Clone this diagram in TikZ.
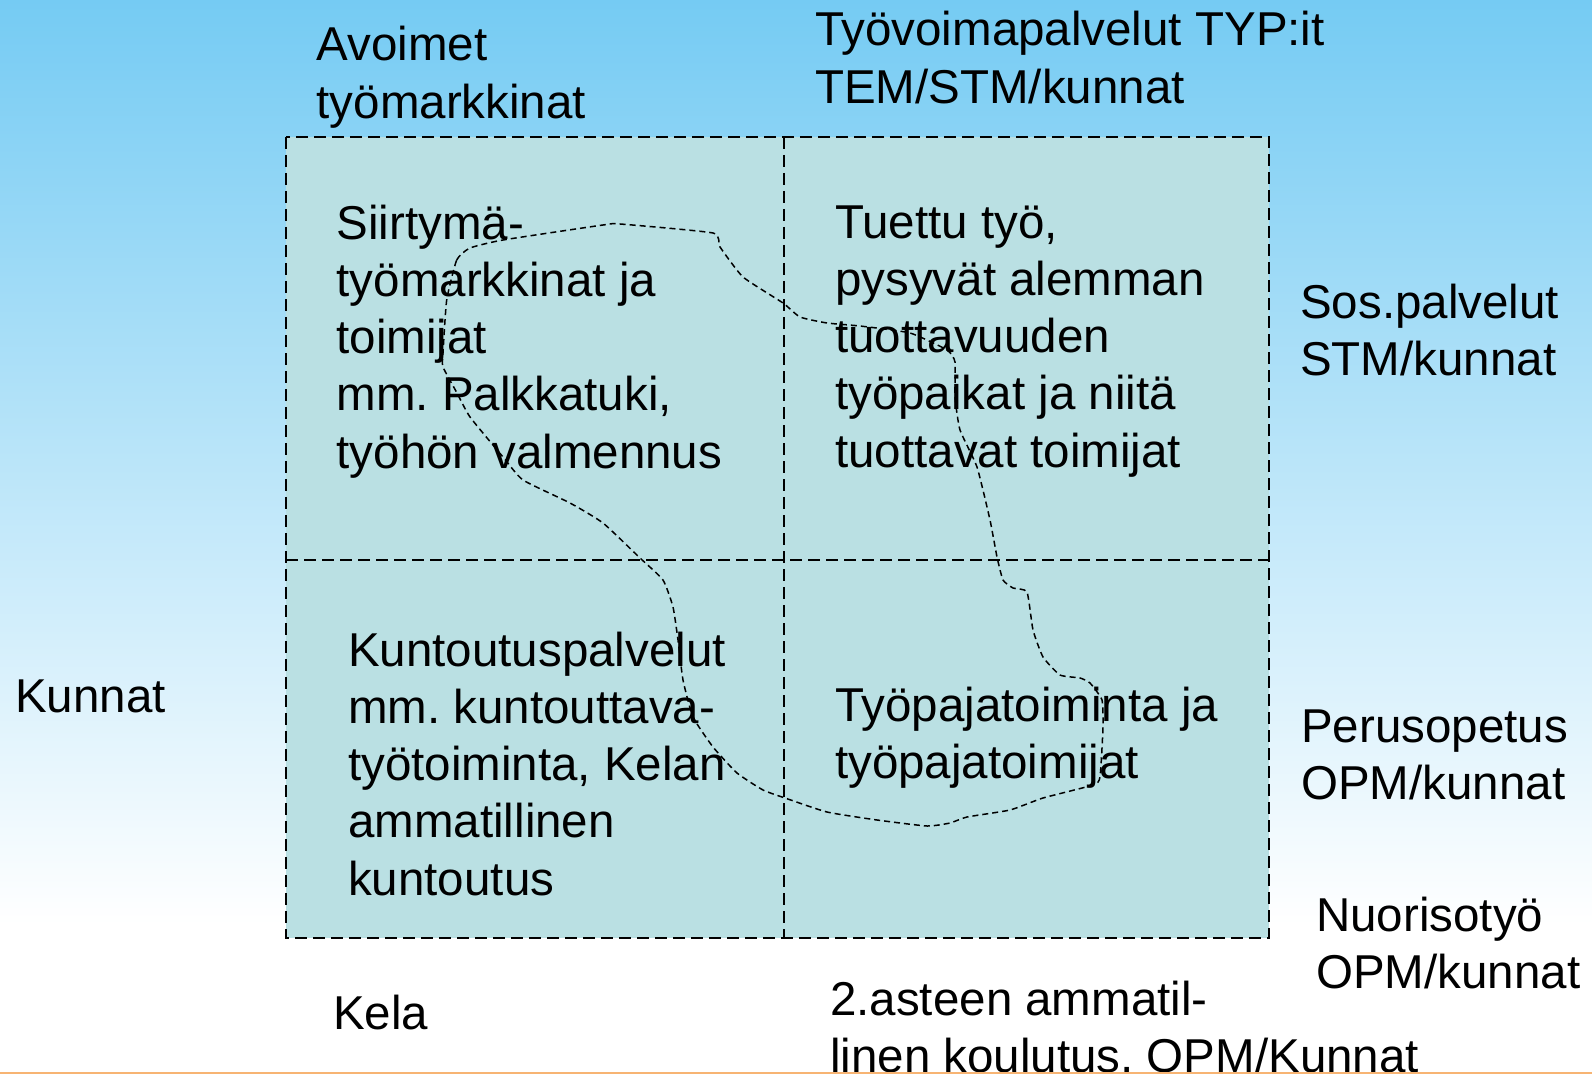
\documentclass[tikz,border=0pt]{standalone}
\usepackage{fontspec}
\setmainfont{Liberation Sans}
\frenchspacing
\definecolor{skytop}{RGB}{117,203,243}
\definecolor{cellfill}{RGB}{186,224,227}
\definecolor{orangeline}{RGB}{247,180,115}
\pgfdeclareverticalshading{skybg}{100bp}{color(0bp)=(white); color(25bp)=(white); color(32bp)=(white); color(75bp)=(skytop); color(100bp)=(skytop)}
\tikzset{
  lbl/.style={anchor=base west, inner sep=0pt, align=left, font=\fontsize{47.5}{57.3}\selectfont},
  gridline/.style={line width=2.2pt, dash pattern=on 12pt off 6pt},
  blob/.style={line width=1.5pt, dash pattern=on 6pt off 4pt}
}
\begin{document}
\begin{tikzpicture}[x=1pt,y=-1pt]
\useasboundingbox (0,0) rectangle (1592,1075);
\clip (0,0) rectangle (1592,1075);
% background
\shade[shading=skybg] (0,0) rectangle (1592,1075);
% grid cells
\fill[cellfill] (286,137) rectangle (1269,938);
\draw[gridline] (286,137) rectangle (1269,938);
\draw[gridline] (784,137) -- (784,938);
\draw[gridline] (286,560) -- (1269,560);
% cell texts (anchored at the baseline of the last line)
\node[lbl] (tl) at (336.5,468.2) {Siirtymä-\\työmarkkinat ja\\toimijat\\mm. Palkkatuki,\\työhön valmennus};
\node[lbl] (tr) at (835,467.2) {Tuettu työ,\\pysyvät alemman\\tuottavuuden\\työpaikat ja niitä\\tuottavat toimijat};
\node[lbl] (bl) at (348,895.2) {Kuntoutuspalvelut\\mm. kuntouttava-\\työtoiminta, Kelan\\ammatillinen\\kuntoutus};
\node[lbl] (br) at (835,778.8) {Työpajatoiminta ja\\työpajatoimijat};
% outer labels
\node[lbl] (avo) at (316.5,118.3) {Avoimet\\työmarkkinat};
\node[lbl] (tyo) at (815,103.3) {Työvoimapalvelut TYP:it\\TEM/STM/kunnat};
\node[lbl] (sos) at (1300,375.3) {Sos.palvelut\\STM/kunnat};
\node[lbl] (per) at (1301,799.3) {Perusopetus\\OPM/kunnat};
\node[lbl] (nuo) at (1316,988.3) {Nuorisotyö\\OPM/kunnat};
\node[lbl] (kun) at (15,712) {Kunnat};
\node[lbl] (kel) at (333,1029) {Kela};
\node[lbl] (ast) at (830,1072.3) {2.asteen ammatil-\\linen koulutus, OPM/Kunnat};
% irregular dashed region
\draw[blob] plot[smooth cycle, tension=0.3] coordinates {
 (446.7,300) (456.7,260) (470,248) (503,240) (603,225) (620,224) (713,233) (720,247)
 (743,277) (783,303) (800,317) (827,323) (860,326) (910,333) (947,350) (955,362)
 (955,397) (960,430) (977,467) (990,520) (997,557) (1003,580) (1013,588) (1027,592)
 (1033,630) (1043,657) (1060,675) (1080,678) (1090,683) (1102,700) (1103,727) (1100,777)
 (1093,785) (1043,798) (1010,810) (967,817) (950,823) (927,826) (877,820) (827,812)
 (785,798) (763,790) (737,773) (713,747) (693,717) (683,680) (678,640) (673,607)
 (663,580) (640,558) (603,523) (570,503) (523,480) (503,457) (470,417) (457,393)
 (443,367) (443,353)};
% bottom line
\fill[white] (0,1074) rectangle (1592,1075);
\draw[orangeline, line width=2.5pt] (0,1073) -- (1592,1073);
\end{tikzpicture}
\end{document}
